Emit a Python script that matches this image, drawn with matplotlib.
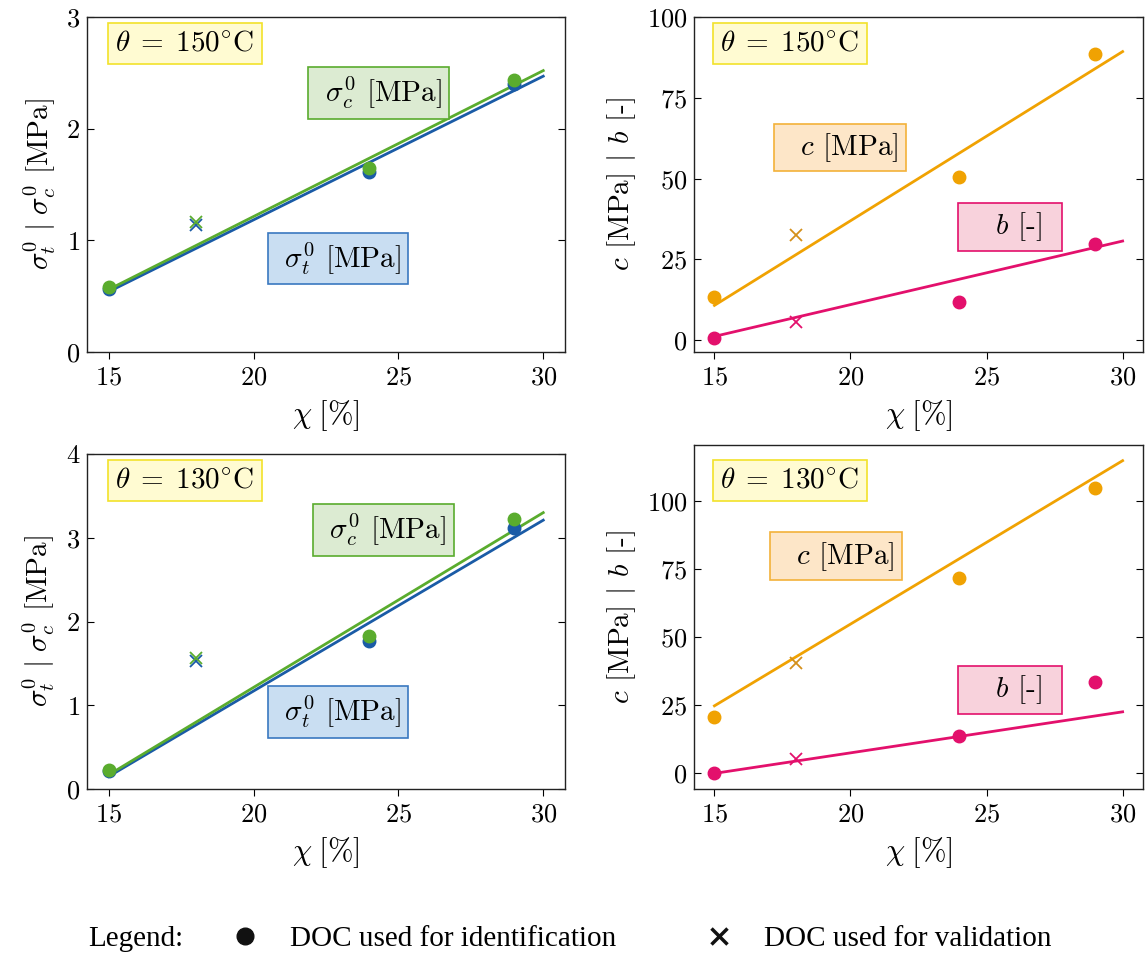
import matplotlib
matplotlib.use('Agg')
import matplotlib.pyplot as plt
from matplotlib.lines import Line2D

plt.rcParams['font.family'] = 'serif'
plt.rcParams['font.serif'] = ['cmr10']
plt.rcParams['mathtext.fontset'] = 'cm'
plt.rcParams['axes.formatter.use_mathtext'] = True
plt.rcParams['axes.unicode_minus'] = False

# identification points (chi = 15, 24, 29) and validation point (chi = 18)
chi_id = [15, 24, 29]
chi_val = [18]
chi_fit = [15, 30]

# theta = 150 C
st150_id = [0.56, 1.61, 2.40]
sc150_id = [0.58, 1.65, 2.44]
st150_val = [1.14]
sc150_val = [1.16]
st150_fit = [0.54, 2.47]
sc150_fit = [0.56, 2.52]

c150_id = [13.4, 50.6, 88.5]
b150_id = [0.8, 11.7, 29.8]
c150_val = [32.7]
b150_val = [5.7]
c150_fit = [10.8, 89.3]
b150_fit = [1.2, 30.7]

# theta = 130 C
st130_id = [0.21, 1.77, 3.12]
sc130_id = [0.23, 1.83, 3.22]
st130_val = [1.53]
sc130_val = [1.57]
st130_fit = [0.15, 3.21]
sc130_fit = [0.17, 3.30]

c130_id = [20.8, 71.8, 104.9]
b130_id = [0.0, 13.7, 33.4]
c130_val = [40.4]
b130_val = [5.1]
c130_fit = [24.8, 114.8]
b130_fit = [0.0, 22.6]

blue = '#1a5ba6'
green = '#5aac2e'
orange = '#f0a202'
pink = '#e3106c'

fig = plt.figure(figsize=(11.46, 9.55), dpi=100)
ax_tl = fig.add_axes([0.0759, 0.6314, 0.4171, 0.3508])
ax_tr = fig.add_axes([0.6056, 0.6314, 0.3918, 0.3508])
ax_bl = fig.add_axes([0.0759, 0.1738, 0.4171, 0.3508])
ax_br = fig.add_axes([0.6056, 0.1738, 0.3918, 0.3602])


def series(ax, yid, yval, yfit, col, valcol=None):
    ax.plot(chi_id, yid, 'o', color=col, ms=9, zorder=3)
    ax.plot(chi_val, yval, 'x', color=valcol or col, ms=9, mew=1.3, zorder=3)
    ax.plot(chi_fit, yfit, '-', color=col, lw=2, zorder=2)


def box(ax, x, y, s, fc, ec):
    ax.text(x, y, s, transform=ax.transAxes, fontsize=21, ha='center', va='center',
            bbox=dict(boxstyle='square,pad=0.25', fc=fc, ec=ec, lw=1.2), zorder=5)


def style(ax):
    ax.tick_params(axis='y', direction='in', left=True, right=True, length=5,
                   labelsize=19, pad=5)
    ax.tick_params(axis='x', direction='out', length=5, labelsize=19, pad=5)
    for sp in ax.spines.values():
        sp.set_color('#222222')
        sp.set_linewidth(1.0)
    ax.set_xticks([15, 20, 25, 30])
    ax.set_xlabel(r'$\chi\;[\%]$', fontsize=22, labelpad=6)


theta150 = r'$\theta\;=\;150^{\circ}\mathrm{C}$'
theta130 = r'$\theta\;=\;130^{\circ}\mathrm{C}$'

# top left
series(ax_tl, st150_id, st150_val, st150_fit, blue)
series(ax_tl, sc150_id, sc150_val, sc150_fit, green)
ax_tl.set_ylim(0, 3)
ax_tl.set_yticks([0, 1, 2, 3])
ax_tl.set_ylabel(r'$\sigma_t^0\ |\ \sigma_c^0$ [MPa]', fontsize=21, labelpad=6)
box(ax_tl, 0.205, 0.92, theta150, '#fffbd2', '#f2e22a')
box(ax_tl, 0.61, 0.773, r' $\sigma_c^0$ [MPa]', '#dcebd2', green)
box(ax_tl, 0.525, 0.28, r' $\sigma_t^0$ [MPa]', '#c9def2', '#3a78c0')
style(ax_tl)

# top right
series(ax_tr, c150_id, c150_val, c150_fit, orange, '#d4901a')
series(ax_tr, b150_id, b150_val, b150_fit, pink)
ax_tr.set_ylim(top=100)
ax_tr.set_yticks([0, 25, 50, 75, 100])
ax_tr.set_ylabel(r'$c$ [MPa] $|$ $b$ [-]', fontsize=21, labelpad=6)
box(ax_tr, 0.214, 0.92, theta150, '#fffbd2', '#f2e22a')
box(ax_tr, 0.325, 0.61, r'  $c$ [MPa]', '#fde6c8', '#f3b23a')
box(ax_tr, 0.704, 0.373, r'   $b$ [-]  ', '#f8d2dc', pink)
style(ax_tr)

# bottom left
series(ax_bl, st130_id, st130_val, st130_fit, blue)
series(ax_bl, sc130_id, sc130_val, sc130_fit, green)
ax_bl.set_ylim(0, 4)
ax_bl.set_yticks([0, 1, 2, 3, 4])
ax_bl.set_ylabel(r'$\sigma_t^0\ |\ \sigma_c^0$ [MPa]', fontsize=21, labelpad=6)
box(ax_bl, 0.205, 0.922, theta130, '#fffbd2', '#f2e22a')
box(ax_bl, 0.62, 0.773, r' $\sigma_c^0$ [MPa]', '#dcebd2', green)
box(ax_bl, 0.525, 0.23, r' $\sigma_t^0$ [MPa]', '#c9def2', '#3a78c0')
style(ax_bl)

# bottom right
series(ax_br, c130_id, c130_val, c130_fit, orange, '#d4901a')
series(ax_br, b130_id, b130_val, b130_fit, pink)
ax_br.set_yticks([0, 25, 50, 75, 100])
ax_br.set_ylabel(r'$c$ [MPa] $|$ $b$ [-]', fontsize=21, labelpad=6)
box(ax_br, 0.214, 0.898, theta130, '#fffbd2', '#f2e22a')
box(ax_br, 0.316, 0.677, r'  $c$ [MPa]', '#fde6c8', '#f3b23a')
box(ax_br, 0.704, 0.288, r'   $b$ [-]  ', '#f8d2dc', pink)
style(ax_br)

# legend row
handles = [Line2D([], [], ls='none', marker='o', color='#111111', ms=12),
           Line2D([], [], ls='none', marker='x', color='#111111', ms=11, mew=2.5)]
labels = ['DOC used for identification', 'DOC used for validation']
fig.text(0.077, 0.017, 'Legend:', fontsize=21, family='Liberation Serif', va='center')
fig.legend(handles, labels, loc='center', bbox_to_anchor=(0.553, 0.017), ncol=2,
           frameon=False, prop={'family': 'Liberation Serif', 'size': 21},
           columnspacing=2.5, handletextpad=0.55)

fig.savefig('out.png', dpi=100)
